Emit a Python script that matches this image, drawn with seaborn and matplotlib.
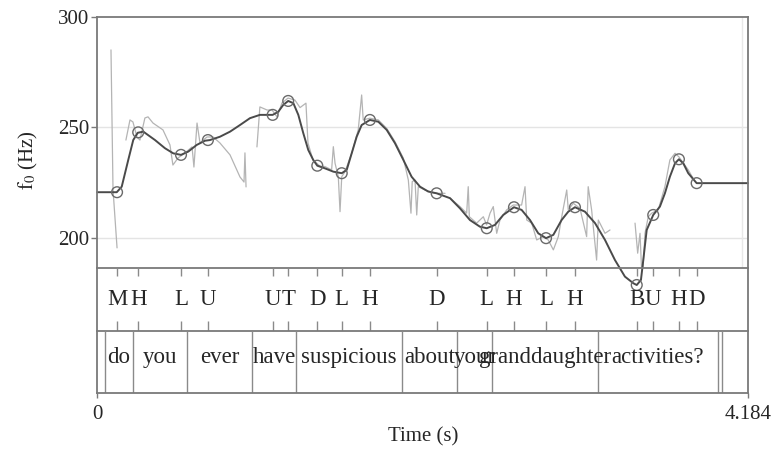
import matplotlib
matplotlib.use('Agg')
import matplotlib.pyplot as plt
import seaborn as sns
import pandas as pd

# time axis end (s)
T_END = 4.184

# smooth (modelled) f0 contour: time (s), f0 (Hz)
curve_t = [0.000, 0.127, 0.159, 0.201, 0.233, 0.262, 0.298, 0.373, 0.437, 0.490,
           0.540, 0.587, 0.641, 0.694, 0.726, 0.790, 0.855, 0.919, 0.983, 1.047,
           1.101, 1.129, 1.165, 1.197, 1.229, 1.262, 1.294, 1.326, 1.358, 1.390,
           1.416, 1.465, 1.519, 1.573, 1.605, 1.637, 1.669, 1.701, 1.754, 1.808,
           1.862, 1.915, 1.969, 2.022, 2.076, 2.129, 2.183, 2.269, 2.333, 2.397,
           2.461, 2.505, 2.558, 2.611, 2.680, 2.729, 2.783, 2.836, 2.886, 2.933,
           2.986, 3.029, 3.072, 3.136, 3.201, 3.265, 3.329, 3.393, 3.447, 3.469,
           3.496, 3.511, 3.533, 3.575, 3.618, 3.650, 3.682, 3.715, 3.740, 3.768,
           3.800, 3.854, 4.184]
curve_f = [220.7, 220.7, 223.2, 235.3, 244.3, 247.6, 248.1, 244.3, 240.6, 238.3,
           237.6, 239.1, 242.1, 244.0, 244.3, 245.8, 248.1, 251.1, 254.2, 255.7,
           255.7, 255.7, 257.1, 260.2, 262.0, 261.0, 255.7, 247.4, 239.8, 235.3,
           232.7, 231.5, 230.0, 229.3, 230.8, 238.3, 245.8, 251.1, 253.4, 252.6,
           248.9, 242.9, 235.3, 227.7, 223.2, 221.0, 220.2, 218.0, 213.4, 208.1,
           205.1, 204.4, 205.9, 210.4, 213.9, 212.7, 208.1, 202.1, 199.9, 201.4,
           208.1, 211.9, 213.9, 211.9, 206.7, 199.1, 190.0, 182.5, 179.5, 178.7,
           181.0, 190.0, 203.6, 210.4, 214.2, 220.2, 227.7, 233.8, 235.6, 233.8,
           229.3, 224.8, 224.8]

# pitch targets (circles) and their tone labels
target_t = [0.129, 0.265, 0.540, 0.713, 1.129, 1.229, 1.416, 1.573, 1.754,
            2.183, 2.505, 2.680, 2.886, 3.072, 3.469, 3.575, 3.740, 3.854]
target_f = [220.7, 247.8, 237.6, 244.3, 255.7, 262.0, 232.7, 229.3, 253.4,
            220.2, 204.4, 213.9, 199.9, 213.9, 178.7, 210.4, 235.6, 224.8]
tone_labels = ['M', 'H', 'L', 'U', 'U', 'T', 'D', 'L', 'H',
               'D', 'L', 'H', 'L', 'H', 'B', 'U', 'H', 'D']

# raw f0 track (voiced stretches), time (s) / f0 (Hz)
raw1_t = [0.090, 0.103, 0.129]
raw1_f = [285.1, 222.0, 195.5]
raw2_t = [0.186, 0.212, 0.231, 0.257, 0.276, 0.308, 0.328, 0.360, 0.424, 0.469,
          0.488, 0.521, 0.566, 0.611, 0.623, 0.643, 0.662, 0.707, 0.746, 0.790,
          0.855, 0.919, 0.945, 0.951, 0.958]
raw2_f = [244.3, 253.4, 252.5, 245.7, 244.3, 254.3, 254.8, 252.0, 248.9, 242.1,
          233.0, 236.2, 238.5, 241.2, 232.1, 252.0, 243.0, 245.7, 245.7, 243.0,
          237.6, 227.6, 225.3, 238.5, 223.1]
raw3_t = [1.028, 1.047, 1.093, 1.125, 1.157, 1.189, 1.228, 1.272, 1.305, 1.343,
          1.356, 1.388, 1.433, 1.465, 1.508, 1.519, 1.530, 1.551, 1.562, 1.573,
          1.594, 1.637, 1.679, 1.701, 1.711, 1.754, 1.808, 1.862, 1.915, 1.969,
          2.001, 2.018, 2.026, 2.044, 2.055, 2.065, 2.108, 2.172, 2.237]
raw3_f = [241.2, 259.3, 257.9, 257.9, 254.8, 261.1, 263.3, 262.4, 259.0, 261.0,
          243.0, 235.3, 232.5, 232.3, 230.8, 241.3, 233.8, 227.7, 211.9, 227.7,
          230.0, 238.3, 248.9, 264.7, 253.4, 254.2, 253.4, 249.6, 243.6, 236.1,
          226.2, 211.2, 225.5, 226.2, 210.4, 223.2, 221.7, 220.2, 220.2]
raw4_t = [2.269, 2.333, 2.376, 2.386, 2.393, 2.440, 2.483, 2.504, 2.526, 2.547,
          2.569, 2.590, 2.633, 2.675, 2.729, 2.751, 2.762, 2.794, 2.826, 2.868,
          2.900, 2.933, 2.965, 2.987, 3.019, 3.029, 3.061, 3.104, 3.147, 3.157,
          3.179, 3.211, 3.222, 3.265, 3.297]
raw4_f = [218.0, 214.2, 211.2, 223.2, 209.6, 206.7, 209.6, 205.9, 211.2, 214.2,
          202.1, 208.1, 212.7, 214.9, 214.9, 223.2, 208.1, 206.7, 199.1, 200.6,
          199.1, 194.6, 200.6, 209.6, 221.7, 212.7, 215.7, 213.4, 200.6, 223.2,
          212.7, 190.0, 208.1, 202.1, 203.6]
raw5_t = [3.458, 3.475, 3.490, 3.504, 3.522, 3.543, 3.565, 3.607, 3.650, 3.682,
          3.715, 3.740, 3.800, 3.830]
raw5_f = [206.7, 193.1, 202.1, 179.5, 202.1, 209.6, 211.2, 212.7, 223.2, 235.3,
          238.3, 236.7, 230.8, 227.1]

# word tier
word_bounds = [0.051, 0.231, 0.578, 0.996, 1.279, 1.960, 2.314, 2.537, 3.220, 3.991, 4.015]
words = ['do', 'you', 'ever', 'have', 'suspicious', 'about', 'your',
         'granddaughter', 'activities?']

sns.set_style('white')
plt.rcParams['font.family'] = ['Liberation Serif', 'DejaVu Serif']
plt.rcParams['mathtext.fontset'] = 'stix'

SPINE = '#7a7a7a'
TXT = '#262626'

fig = plt.figure(figsize=(7.74, 4.53), dpi=100)
ax = fig.add_axes([0.1253, 0.4084, 0.8411, 0.5541])
ax1 = fig.add_axes([0.1253, 0.2693, 0.8411, 0.1391])
ax2 = fig.add_axes([0.1253, 0.1325, 0.8411, 0.1368])

# --- f0 panel ---
for y in [200, 250]:
    ax.axhline(y, color='#e4e4e4', lw=1, zorder=0)
ax.axvline(4.145, color='#e8e8e8', lw=1, zorder=0)

raw = pd.concat([
    pd.DataFrame({'t': raw1_t, 'f': raw1_f, 'seg': 1}),
    pd.DataFrame({'t': raw2_t, 'f': raw2_f, 'seg': 2}),
    pd.DataFrame({'t': raw3_t, 'f': raw3_f, 'seg': 3}),
    pd.DataFrame({'t': raw4_t, 'f': raw4_f, 'seg': 4}),
    pd.DataFrame({'t': raw5_t, 'f': raw5_f, 'seg': 5}),
])
sns.lineplot(data=raw, x='t', y='f', units='seg', estimator=None,
             color='#b4b4b4', lw=0.9, ax=ax)

sns.lineplot(x=curve_t, y=curve_f, sort=False, color='#4a4a4a', lw=1.4, ax=ax)
ax.lines[-1].set_clip_on(False)

sns.scatterplot(x=target_t, y=target_f, s=60, facecolor='none',
                edgecolor='#6a6a6a', linewidth=1.0, ax=ax, zorder=5)
ax.collections[-1].set_clip_on(False)

ax.set_xlim(0, T_END)
ax.set_ylim(186.4, 300)
ax.set_yticks([200, 250, 300])
ax.set_xticks([])
ax.tick_params(axis='y', length=4.3, width=1, color=SPINE, pad=1,
               labelsize=15, labelcolor=TXT, left=True)
ax.set_xlabel('')
ax.set_ylabel(r'$\mathrm{f}_0$ (Hz)', fontsize=15, color=TXT)
ax.yaxis.set_label_coords(-0.088, 0.43)

# --- tone tier ---
for t, lab in zip(target_t, tone_labels):
    ax1.vlines(t, 0.88, 1.0, color='#8a8a8a', lw=1)
    ax1.vlines(t, 0.0, 0.16, color='#8a8a8a', lw=1)
    ax1.text(t, 0.5, lab, ha='center', va='center', fontsize=16.5, color=TXT)
ax1.set_xlim(0, T_END)
ax1.set_ylim(0, 1)
ax1.set_xticks([])
ax1.set_yticks([])
ax1.set_facecolor('none')

# --- word tier ---
ax2.vlines(word_bounds, 0, 1, color='#8a8a8a', lw=1)
for (a, b), w in zip(zip(word_bounds[:-1], word_bounds[1:]), words):
    ax2.text((a + b) / 2, 0.58, w, ha='center', va='center', fontsize=16.5, color=TXT)
ax2.set_xlim(0, T_END)
ax2.set_ylim(0, 1)
ax2.set_yticks([])
ax2.set_xticks([0, T_END])
ax2.set_xticklabels(['0', '4.184'])
ax2.tick_params(axis='x', length=3.6, width=1, color=SPINE, pad=5,
                labelsize=15, labelcolor=TXT, bottom=True)
ax2.set_facecolor('none')

for a in (ax, ax1, ax2):
    for s in a.spines.values():
        s.set_color(SPINE)
        s.set_linewidth(1.3)
        s.set_visible(True)
ax1.spines['top'].set_visible(False)
ax2.spines['top'].set_visible(False)

fig.text(423 / 774, 1 - 437 / 453, 'Time (s)', ha='center', va='center',
         fontsize=15, color=TXT)

fig.savefig('out.png', dpi=100)
